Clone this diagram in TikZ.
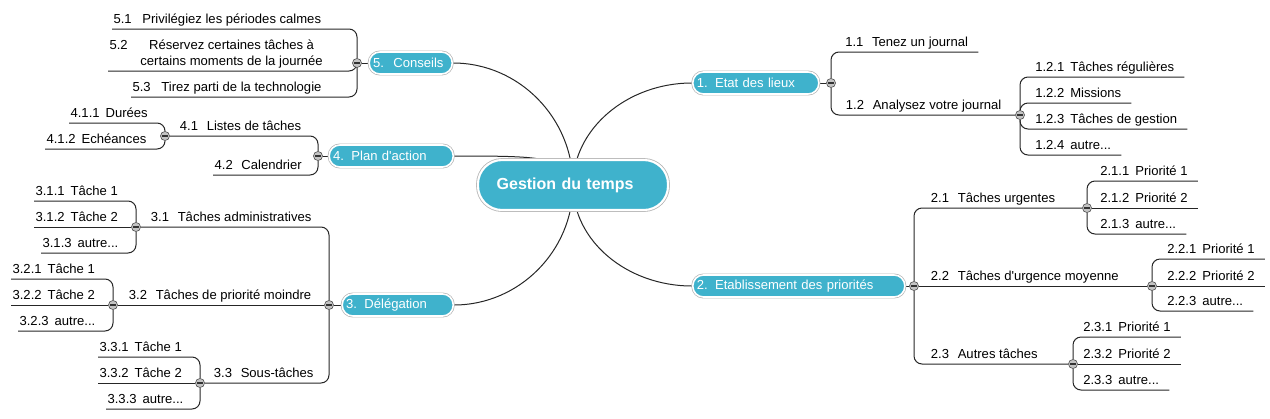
\documentclass[tikz,border=0pt]{standalone}
\usepackage{fontspec}
\setmainfont{Liberation Sans}[Ligatures=TeXOff]
\usepackage{tikz}
\usetikzlibrary{backgrounds}
\definecolor{mapteal}{HTML}{3FB2CC}
\definecolor{knobgray}{HTML}{C4C4C4}
\definecolor{ringgray}{HTML}{B4B4B4}
\newcommand{\lblfont}{\fontsize{9.8}{12}\selectfont}
\newcommand{\tnum}[3][6.5pt]{#2\hspace{#1}#3}

\begin{document}
\begin{tikzpicture}[
  x=0.75pt,y=-0.75pt,
  central/.style={rectangle,rounded corners=18pt,fill=mapteal,draw=white,line width=1.6pt,preaction={draw=ringgray,line width=2.8pt},text=white,font=\fontsize{12}{14}\selectfont\bfseries,text width=114.5pt,inner xsep=14pt,minimum height=37.5pt,align=left},
  topic/.style={rectangle,rounded corners=8pt,fill=mapteal,draw=white,line width=1.2pt,preaction={draw=ringgray,line width=2.2pt},text=white,font=\lblfont,minimum height=16.5pt,inner xsep=3pt,inner ysep=0pt,align=left},
  knob/.style={circle,fill=knobgray,draw=black!65,line width=0.5pt,minimum size=6.8pt,inner sep=0pt,path picture={\draw[line width=0.8pt,black!80] ([xshift=-2.1pt]path picture bounding box.center) -- ([xshift=2.1pt]path picture bounding box.center);}},
  leaf/.style={anchor=south west,font=\lblfont,inner xsep=7.5pt,inner ysep=1pt,text depth=2.6pt},
  lleaf/.style={leaf,inner xsep=1pt},
  label/.style={leaf,inner xsep=0.5pt},
  link/.style={line width=0.75pt,black!85,rounded corners=6pt}
]
\useasboundingbox (0,0) rectangle (1270,418);

% Central topic
\node[central] (root) at (573,185) {Gestion du temps};

% 1. Etat des lieux
\node[topic,anchor=west,text width=88.5pt] (p1) at (692,83) {1.\hspace{5.5pt}Etat des lieux};
\node[knob] (c1) at (831,83) {};
\node[leaf] (t11) at (835,52) {\tnum{1.1}{Tenez un journal}};
\node[label] (t12) at (845,115) {\tnum{1.2}{Analysez votre journal}};
\node[knob] (c12) at (1020,115) {};
\node[leaf] (t121) at (1025,77) {\tnum[4.5pt]{1.2.1}{Tâches régulières}};
\node[leaf] (t122) at (1025,103) {\tnum[4.5pt]{1.2.2}{Missions}};
\node[leaf] (t123) at (1025,129) {\tnum[4.5pt]{1.2.3}{Tâches de gestion}};
\node[leaf] (t124) at (1025,155) {\tnum[4.5pt]{1.2.4}{autre...}};

% 2. Etablissement des priorites
\node[topic,anchor=west,text width=153pt] (p2) at (692,286) {2.\hspace{5.5pt}Etablissement des priorités};
\node[knob] (c2) at (914,286) {};
\node[label] (t21) at (930,208) {\tnum{2.1}{Tâches urgentes}};
\node[knob] (c21) at (1087,208) {};
\node[leaf] (t211) at (1090,181) {\tnum[4.5pt]{2.1.1}{Priorité 1}};
\node[leaf] (t212) at (1090,208) {\tnum[4.5pt]{2.1.2}{Priorité 2}};
\node[leaf] (t213) at (1090,234) {\tnum[4.5pt]{2.1.3}{autre...}};
\node[label] (t22) at (930,286) {\tnum{2.2}{Tâches d'urgence moyenne}};
\node[knob] (c22) at (1152,286) {};
\node[leaf] (t221) at (1157,259) {\tnum[4.5pt]{2.2.1}{Priorité 1}};
\node[leaf] (t222) at (1157,286) {\tnum[4.5pt]{2.2.2}{Priorité 2}};
\node[leaf] (t223) at (1157,311) {\tnum[4.5pt]{2.2.3}{autre...}};
\node[label] (t23) at (930,364) {\tnum{2.3}{Autres tâches}};
\node[knob] (c23) at (1073,364) {};
\node[leaf] (t231) at (1073,337) {\tnum[4.5pt]{2.3.1}{Priorité 1}};
\node[leaf] (t232) at (1073,364) {\tnum[4.5pt]{2.3.2}{Priorité 2}};
\node[leaf] (t233) at (1073,390) {\tnum[4.5pt]{2.3.3}{autre...}};

% 5. Conseils
\node[topic,anchor=east,text width=56.25pt] (p5) at (453,63) {5.\hspace{7pt}Conseils};
\node[knob] (c5) at (357,63) {};
\node[lleaf] (t51) at (112,29) {\tnum[8pt]{5.1}{Privilégiez les périodes calmes}};
\node[lleaf] (t52) at (108,71) {\raisebox{12pt}{5.2}\hspace{9.5pt}\begin{tabular}[b]{@{}c@{}}Réservez certaines tâches à\\certains moments de la journée\end{tabular}};
\node[lleaf] (t53) at (131,97) {\tnum[8pt]{5.3}{Tirez parti de la technologie}};

% 4. Plan d'action
\node[topic,anchor=east,text width=87pt] (p4) at (454,156) {4.\hspace{5.5pt}Plan d'action};
\node[knob] (c4) at (318,156) {};
\node[label] (t41) at (179,136) {\tnum{4.1}{Listes de tâches}};
\node[knob] (c41) at (165,136) {};
\node[lleaf] (t411) at (69,123) {\tnum[4.5pt]{4.1.1}{Durées}};
\node[lleaf] (t412) at (45,149) {\tnum[4.5pt]{4.1.2}{Echéances}};
\node[lleaf] (t42) at (213,175) {\tnum{4.2}{Calendrier}};

% 3. Delegation
\node[topic,anchor=east,text width=77.25pt] (p3) at (454,305) {3.\hspace{5.5pt}Délégation};
\node[knob] (c3) at (329,305) {};
\node[label] (t31) at (150,227) {\tnum{3.1}{Tâches administratives}};
\node[knob] (c31) at (136,227) {};
\node[lleaf] (t311) at (34,201) {\tnum[4.5pt]{3.1.1}{Tâche 1}};
\node[lleaf] (t312) at (34,227) {\tnum[4.5pt]{3.1.2}{Tâche 2}};
\node[lleaf] (t313) at (41,253) {\tnum[4.5pt]{3.1.3}{autre...}};
\node[label] (t32) at (128,305) {\tnum{3.2}{Tâches de priorité moindre}};
\node[knob] (c32) at (113,305) {};
\node[lleaf] (t321) at (11,279) {\tnum[4.5pt]{3.2.1}{Tâche 1}};
\node[lleaf] (t322) at (11,305) {\tnum[4.5pt]{3.2.2}{Tâche 2}};
\node[lleaf] (t323) at (18,331) {\tnum[4.5pt]{3.2.3}{autre...}};
\node[label] (t33) at (213,383) {\tnum{3.3}{Sous-tâches}};
\node[knob] (c33) at (200,383) {};
\node[lleaf] (t331) at (98,357) {\tnum[4.5pt]{3.3.1}{Tâche 1}};
\node[lleaf] (t332) at (98,383) {\tnum[4.5pt]{3.3.2}{Tâche 2}};
\node[lleaf] (t333) at (106,409) {\tnum[4.5pt]{3.3.3}{autre...}};

% Links
\begin{scope}[on background layer]
\draw[link] (root.center) .. controls +(0,-56) and +(-65,0) .. (p1.west);
\draw[link] (root.center) .. controls +(0,56) and +(-65,0) .. (p2.west);
\draw[link] (root.center) .. controls +(0,66) and +(65,0) .. (p3.east);
\draw[link] (p4.east) .. controls +(95,0) and +(-12,-28) .. (root.center);
\draw[link] (root.center) .. controls +(0,-67) and +(66,0) .. (p5.east);

\draw[link] (p1) -- (c1);
\draw[link] (c1) |- (t11.south east);
\draw[link] (c1) |- (c12);
\draw[link] (c12) |- (t121.south east);
\draw[link] (c12) |- (t122.south east);
\draw[link] (c12) |- (t123.south east);
\draw[link] (c12) |- (t124.south east);

\draw[link] (p2) -- (c2);
\draw[link] (c2) |- (c21);
\draw[link] (c2) -- (c22);
\draw[link] (c2) |- (c23);
\draw[link] (c21) |- (t211.south east);
\draw[link] (c21) -- (t212.south east);
\draw[link] (c21) |- (t213.south east);
\draw[link] (c22) |- (t221.south east);
\draw[link] (c22) -- (t222.south east);
\draw[link] (c22) |- (t223.south east);
\draw[link] (c23) |- (t231.south east);
\draw[link] (c23) -- (t232.south east);
\draw[link] (c23) |- (t233.south east);

\draw[link] (p5) -- (c5);
\draw[link] (c5) |- (t51.south west);
\draw[link] (c5) |- (t52.south west);
\draw[link] (c5) |- (t53.south west);

\draw[link] (p4) -- (c4);
\draw[link] (c4) |- (c41);
\draw[link] (c4) |- (t42.south west);
\draw[link] (c41) |- (t411.south west);
\draw[link] (c41) |- (t412.south west);

\draw[link] (p3) -- (c3);
\draw[link] (c3) |- (c31);
\draw[link] (c3) -- (c32);
\draw[link] (c3) |- (c33);
\draw[link] (c31) |- (t311.south west);
\draw[link] (c31) -- (t312.south west);
\draw[link] (c31) |- (t313.south west);
\draw[link] (c32) |- (t321.south west);
\draw[link] (c32) -- (t322.south west);
\draw[link] (c32) |- (t323.south west);
\draw[link] (c33) |- (t331.south west);
\draw[link] (c33) -- (t332.south west);
\draw[link] (c33) |- (t333.south west);
\end{scope}

\end{tikzpicture}
\end{document}
